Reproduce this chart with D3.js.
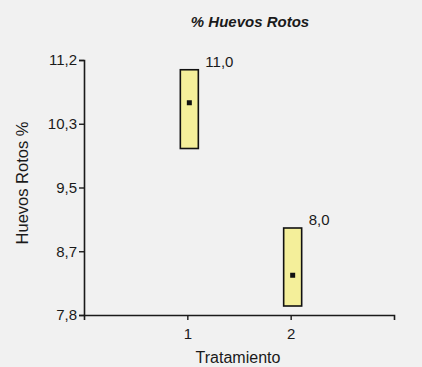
<!DOCTYPE html>
<html>
<head>
<meta charset="utf-8">
<script src="https://cdn.jsdelivr.net/npm/d3@7"></script>
<style>
  html, body { margin: 0; padding: 0; background: #f1f1f1; }
  svg { display: block; }
  text { font-family: "Liberation Sans", Arial, sans-serif; fill: #1a1a1a; }
</style>
</head>
<body>
<div id="chart"></div>
<script>
// Treatments and the interval drawn for each one
const treatments = [1, 2];
const lowerValues = [10.02, 7.92];
const upperValues = [11.07, 8.96];
const meanValues = [10.63, 8.33];
const barLabels = ["11,0", "8,0"];

// Y axis ticks (evenly spaced) and their printed labels
const yTickValues = [7.8, 8.65, 9.5, 10.35, 11.2];
const yTickLabels = ["7,8", "8,7", "9,5", "10,3", "11,2"];

const width = 422, height = 367;
const svg = d3.select("#chart").append("svg")
  .attr("width", width).attr("height", height);

svg.append("rect").attr("width", width).attr("height", height).attr("fill", "#f1f1f1");

const x = d3.scaleLinear().domain([0, 3]).range([84, 394]);
const y = d3.scaleLinear().domain([7.8, 11.2]).range([315, 60]);

// Axes
const yAxis = d3.axisLeft(y)
  .tickValues(yTickValues)
  .tickFormat((d, i) => yTickLabels[i])
  .tickSize(5).tickSizeOuter(5).tickPadding(2);

const xAxis = d3.axisBottom(x)
  .tickValues(treatments)
  .tickFormat(d => String(d))
  .tickSize(5).tickSizeOuter(5).tickPadding(8);

const gy = svg.append("g").attr("transform", `translate(${x(0)},0)`).call(yAxis);
const gx = svg.append("g").attr("transform", `translate(0,${y(7.8)})`).call(xAxis);

[gy, gx].forEach(g => {
  g.attr("font-size", null).attr("font-family", null);
  g.select(".domain").attr("stroke", "#1a1a1a").attr("stroke-width", 1.6);
  g.selectAll(".tick line").attr("stroke", "#1a1a1a").attr("stroke-width", 1.4);
  g.selectAll(".tick text").style("font-size", "15px").attr("fill", "#1a1a1a");
});

// Interval boxes
const barW = 18;
const data = treatments.map((t, i) => ({
  t, lo: lowerValues[i], hi: upperValues[i], mean: meanValues[i], label: barLabels[i]
}));

svg.append("g").selectAll("rect").data(data).join("rect")
  .attr("x", d => x(d.t) - barW / 2 + 2)
  .attr("y", d => y(d.hi))
  .attr("width", barW)
  .attr("height", d => y(d.lo) - y(d.hi))
  .attr("fill", "#f4ef9a")
  .attr("stroke", "#111")
  .attr("stroke-width", 1.6);

// Mean markers
svg.append("g").selectAll("rect").data(data).join("rect")
  .attr("x", d => x(d.t) + 2 - 2.5)
  .attr("y", d => y(d.mean) - 2.5)
  .attr("width", 5).attr("height", 5)
  .attr("fill", "#111");

// Labels above-right of each box
svg.append("g").selectAll("text").data(data).join("text")
  .attr("x", d => x(d.t) + barW / 2 + 9)
  .attr("y", d => y(d.hi) - 3)
  .style("font-size", "15px")
  .text(d => d.label);

// Title
svg.append("text")
  .attr("x", 250).attr("y", 27)
  .attr("text-anchor", "middle")
  .style("font-size", "15px")
  .attr("font-weight", "bold")
  .attr("font-style", "italic")
  .text("% Huevos Rotos");

// Axis titles
svg.append("text")
  .attr("x", 238).attr("y", 363)
  .attr("text-anchor", "middle")
  .style("font-size", "16px")
  .text("Tratamiento");

svg.append("text")
  .attr("transform", "translate(28,183) rotate(-90)")
  .attr("text-anchor", "middle")
  .style("font-size", "16.5px")
  .text("Huevos Rotos %");
</script>
</body>
</html>
